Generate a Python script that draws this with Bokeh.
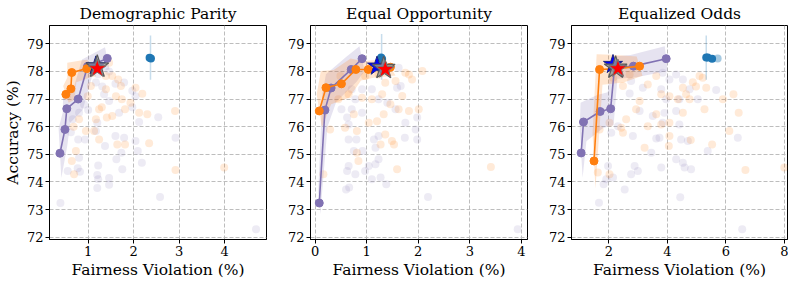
from bokeh.plotting import figure
from bokeh.layouts import row
from bokeh.models import FixedTicker, Range1d
from bokeh.embed import file_html
from bokeh.resources import INLINE

PURPLE = "#8172b3"
ORANGE = "#ff7f0e"
BLUE = "#1f77b4"
FONT = "DejaVu Serif"

titles = ["Demographic Parity", "Equal Opportunity", "Equalized Odds"]
x_ranges = [(0.15, 4.92), (-0.09, 4.12), (0.72, 8.11)]
x_ticks = [[1, 2, 3, 4], [0, 1, 2, 3, 4], [2, 4, 6, 8]]
y_ticks = [72, 73, 74, 75, 76, 77, 78, 79]
y_range = (71.92, 79.66)

# ---------- Demographic Parity ----------
dp_purple_x = [0.38, 0.49, 0.53, 0.78, 0.985, 1.42]
dp_purple_y = [75.04, 75.90, 76.65, 77.00, 78.18, 78.47]
dp_purple_yerr = [0.9, 0.6, 0.5, 0.4, 0.25, 0.4]
dp_purple_xerr = [0.03, 0.05, 0.08, 0.1, 0.12, 0.05]
dp_orange_x = [0.51, 0.62, 0.64, 0.97, 1.08]
dp_orange_y = [77.17, 77.37, 77.96, 78.10, 78.12]
dp_orange_yerr = [0.3, 0.4, 0.35, 0.3, 0.3]
dp_orange_xerr = [0.06, 0.08, 0.1, 0.1, 0.1]
dp_blue_x = [2.35, 2.38]
dp_blue_y = [78.49, 78.47]
dp_blue_alpha = [1.0, 1.0]
dp_blue_err = [2.37, 77.7, 79.3]
dp_stars = [(1.17, 78.20), (1.20, 78.17), (1.20, 78.10)]
dp_bg_purple_x = [0.39, 0.55, 0.77, 0.82, 0.80, 0.78, 0.93, 1.0, 1.17, 1.2, 1.22, 1.2, 1.2, 1.22,
                  1.46, 1.46, 1.37, 1.6, 1.62, 1.79, 1.75, 1.73, 1.68, 2.04, 2.09, 2.18, 2.12, 2.54,
                  2.58, 2.92, 1.97, 1.46, 1.35, 1.31, 1.17, 1.6, 1.79, 1.97, 2.04, 1.22, 1.46, 4.69,
                  0.66, 0.62, 0.91, 0.8]
dp_bg_purple_y = [73.24, 74.4, 74.5, 74.37, 74.88, 75.54, 75.54, 76.6, 75.84, 76.14, 74.6, 74.25, 73.78, 74.1,
                  74.14, 73.9, 75.3, 75.66, 74.82, 75.6, 74.46, 75.06, 76.5, 75.48, 75.12, 74.7, 76.17, 76.34,
                  73.46, 75.6, 76.7, 76.93, 77.17, 77.45, 77.6, 77.55, 77.6, 77.3, 77.1, 77.9, 78.0, 72.29,
                  76.27, 75.8, 76.8, 76.5]
dp_bg_orange_x = [0.53, 0.64, 0.69, 0.73, 0.99, 1.17, 1.24, 1.13, 1.24, 1.3, 1.41, 1.39, 1.53, 1.66, 1.72,
                  1.61, 1.74, 1.81, 1.64, 1.81, 1.93, 2.04, 2.19, 2.12, 2.3, 2.34, 2.91, 2.92, 3.99, 1.06,
                  0.95, 1.53, 1.39, 1.46, 0.8, 0.68]
dp_bg_orange_y = [77.1, 74.76, 74.28, 75.12, 77.1, 76.27, 76.63, 75.84, 75.54, 76.7, 76.33, 77.35, 77.83, 77.71,
                  77.47, 77.1, 76.99, 76.63, 75.36, 75.36, 76.87, 77.41, 77.19, 76.5, 76.45, 75.4, 76.57, 74.43,
                  74.52, 77.47, 75.84, 76.39, 77.83, 78.31, 76.27, 76.0]

# ---------- Equal Opportunity ----------
eo_purple_x = [0.08, 0.19, 0.31, 0.70, 0.91]
eo_purple_y = [73.24, 76.60, 77.40, 78.07, 78.46]
eo_purple_yerr = [0.4, 0.6, 0.5, 0.45, 0.45]
eo_purple_xerr = [0.02, 0.05, 0.1, 0.1, 0.05]
eo_orange_x = [0.08, 0.21, 0.51, 0.79, 1.03, 1.46]
eo_orange_y = [76.57, 77.41, 77.55, 78.07, 78.07, 78.15]
eo_orange_yerr = [0.6, 0.6, 0.5, 0.4, 0.3, 0.3]
eo_orange_xerr = [0.05, 0.1, 0.15, 0.1, 0.1, 0.1]
eo_blue_x = [1.28, 1.30]
eo_blue_y = [78.50, 78.45]
eo_blue_alpha = [1.0, 1.0]
eo_blue_err = [1.29, 77.7, 79.35]
eo_stars = [(1.20, 78.19), (1.33, 78.12), (1.36, 78.07)]
eo_bg_purple_x = [3.93, 2.19, 1.38, 1.27, 1.1, 0.6, 0.66, 0.78, 0.62, 0.97, 1.04, 1.17, 1.23, 0.65, 0.75,
                  0.92, 1.17, 0.8, 0.65, 1.14, 1.23, 1.74, 1.98, 1.75, 0.62, 0.65, 0.91, 0.51, 0.71, 1.56,
                  1.23, 1.59, 1.66, 0.71, 0.91, 1.1, 0.78, 1.62, 1.95, 1.98, 1.4]
eo_bg_purple_y = [72.29, 73.46, 73.92, 74.16, 74.1, 73.73, 73.8, 74.28, 74.4, 74.4, 74.58, 74.64, 74.82, 74.58, 75.12,
                  75.12, 75.24, 75.54, 75.54, 75.54, 75.66, 75.6, 76.33, 76.14, 76.33, 76.08, 76.5, 76.63, 76.63, 76.63,
                  76.99, 77.41, 77.47, 77.35, 77.35, 77.35, 76.99, 78.13, 75.9, 75.54, 76.87]
eo_bg_orange_x = [3.41, 1.59, 0.84, 1.27, 1.49, 1.53, 1.36, 0.81, 0.58, 0.29, 0.16, 0.81, 0.75, 1.04, 1.2,
                  1.33, 1.62, 1.82, 2.01, 1.46, 1.69, 1.3, 1.1, 0.91, 0.65, 1.36, 1.56, 1.82, 1.88, 2.08,
                  1.75, 0.97, 1.23, 0.49, 0.45]
eo_bg_orange_y = [74.54, 74.46, 74.76, 75.36, 75.48, 75.36, 75.72, 75.84, 75.96, 75.9, 74.28, 75.06, 76.45, 76.14, 76.2,
                  76.45, 76.63, 76.57, 76.63, 76.81, 77.11, 77.17, 76.99, 77.05, 77.17, 77.59, 77.65, 77.89, 77.71, 78.01,
                  77.95, 77.83, 77.89, 77.83, 76.99]

# ---------- Equalized Odds ----------
eq_purple_x = [1.05, 1.13, 1.70, 2.06, 2.19, 2.84, 3.96]
eq_purple_y = [75.05, 76.17, 76.55, 76.65, 78.13, 78.19, 78.46]
eq_purple_yerr = [0.9, 0.7, 0.6, 0.6, 0.4, 0.4, 0.45]
eq_purple_xerr = [0.05, 0.1, 0.1, 0.1, 0.1, 0.1, 0.05]
eq_orange_x = [1.49, 1.68, 2.30, 3.05]
eq_orange_y = [74.76, 78.07, 78.10, 78.19]
eq_orange_yerr = [1.0, 0.55, 0.5, 0.35]
eq_orange_xerr = [0.05, 0.1, 0.2, 0.1]
eq_blue_x = [5.33, 5.38, 5.53, 5.72]
eq_blue_y = [78.50, 78.50, 78.46, 78.47]
eq_blue_alpha = [1.0, 1.0, 1.0, 0.4]
eq_blue_err = [5.33, 77.7, 79.3]
eq_stars = [(2.14, 78.25), (2.23, 78.13), (2.31, 78.10)]
eq_bg_purple_x = [1.66, 6.56, 4.44, 2.54, 1.82, 2.14, 1.91, 2.76, 2.99, 3.79, 2.88, 4.3, 4.59, 4.81, 4.53,
                  5.38, 3.45, 6.41, 3.62, 3.73, 4.47, 4.7, 2.08, 2.82, 2.31, 3.84, 4.41, 3.9, 4.3, 3.5,
                  3.05, 3.96, 4.41, 5.04, 5.67, 4.76, 3.79, 3.16, 2.71, 4.07, 4.3, 4.53, 3.84, 2.76, 1.97]
eq_bg_purple_y = [73.25, 72.29, 73.45, 73.73, 73.92, 74.16, 74.1, 74.28, 74.4, 74.52, 74.58, 74.82, 74.52, 74.46, 74.7,
                  75.12, 75.06, 75.6, 75.57, 75.6, 75.54, 75.48, 75.78, 75.66, 76.02, 76.14, 76.08, 76.5, 76.57, 76.39,
                  76.57, 76.99, 76.99, 76.99, 77.33, 77.35, 77.35, 77.41, 77.2, 77.71, 77.89, 77.71, 77.95, 77.65, 74.58]
eq_bg_orange_x = [8.0, 6.67, 5.53, 4.07, 4.05, 4.8, 6.12, 6.44, 6.26, 5.9, 5.33, 4.98, 4.87, 5.21, 4.53,
                  4.64, 4.36, 4.07, 3.79, 3.33, 3.62, 3.05, 2.93, 2.59, 2.42, 3.33, 3.79, 3.22, 4.07, 3.62,
                  5.27, 5.1, 4.53, 4.76, 2.71, 2.48, 2.14, 2.02, 1.62, 1.68, 2.02, 2.48]
eq_bg_orange_y = [74.52, 74.43, 75.36, 75.66, 75.3, 75.52, 75.84, 76.5, 77.17, 76.99, 77.41, 77.45, 77.61, 77.77, 77.41,
                  77.17, 76.99, 77.1, 77.17, 77.53, 77.83, 76.93, 76.63, 76.27, 75.96, 76.02, 76.08, 75.24, 76.14, 76.45,
                  76.63, 77.83, 76.5, 76.99, 77.89, 77.47, 77.77, 74.28, 74.34, 75.9, 76.14, 75.78]

panels = [
    dict(px=dp_purple_x, py=dp_purple_y, pye=dp_purple_yerr, pxe=dp_purple_xerr,
         ox=dp_orange_x, oy=dp_orange_y, oye=dp_orange_yerr, oxe=dp_orange_xerr,
         bx=dp_blue_x, by=dp_blue_y, ba=dp_blue_alpha, be=dp_blue_err, stars=dp_stars,
         bgpx=dp_bg_purple_x, bgpy=dp_bg_purple_y, bgox=dp_bg_orange_x, bgoy=dp_bg_orange_y),
    dict(px=eo_purple_x, py=eo_purple_y, pye=eo_purple_yerr, pxe=eo_purple_xerr,
         ox=eo_orange_x, oy=eo_orange_y, oye=eo_orange_yerr, oxe=eo_orange_xerr,
         bx=eo_blue_x, by=eo_blue_y, ba=eo_blue_alpha, be=eo_blue_err, stars=eo_stars,
         bgpx=eo_bg_purple_x, bgpy=eo_bg_purple_y, bgox=eo_bg_orange_x, bgoy=eo_bg_orange_y),
    dict(px=eq_purple_x, py=eq_purple_y, pye=eq_purple_yerr, pxe=eq_purple_xerr,
         ox=eq_orange_x, oy=eq_orange_y, oye=eq_orange_yerr, oxe=eq_orange_xerr,
         bx=eq_blue_x, by=eq_blue_y, ba=eq_blue_alpha, be=eq_blue_err, stars=eq_stars,
         bgpx=eq_bg_purple_x, bgpy=eq_bg_purple_y, bgox=eq_bg_orange_x, bgoy=eq_bg_orange_y),
]


def band(xs, ys, xe, ye):
    upper_x = [x - e for x, e in zip(xs, xe)]
    upper_y = [y + e for y, e in zip(ys, ye)]
    lower_x = [x + e for x, e in zip(xs, xe)][::-1]
    lower_y = [y - e for y, e in zip(ys, ye)][::-1]
    return upper_x + lower_x, upper_y + lower_y


figs = []
for i, d in enumerate(panels):
    first = i == 0
    p = figure(frame_width=217 if i < 2 else 216, frame_height=214,
               x_range=Range1d(*x_ranges[i]), y_range=Range1d(*y_range),
               output_backend="svg", toolbar_location=None, title=titles[i],
               min_border_left=42 if first else 34, min_border_right=10 if i < 2 else 1,
               min_border_top=0, min_border_bottom=0)
    p.title.text_font = FONT
    p.title.text_font_size = "15.5px"
    p.title.text_font_style = "normal"
    p.title.text_color = "black"
    p.title.align = "center"
    p.title.standoff = 5
    p.outline_line_color = "black"
    p.outline_line_width = 1
    p.background_fill_color = "white"
    p.border_fill_color = "white"

    for ax in (p.xaxis[0], p.yaxis[0]):
        ax.major_label_text_font = FONT
        ax.major_label_text_font_size = "13px"
        ax.major_label_text_color = "black"
        ax.axis_label_text_font = FONT
        ax.axis_label_text_font_size = "15.5px"
        ax.axis_label_text_font_style = "normal"
        ax.axis_label_text_color = "black"
        ax.minor_tick_line_color = None
        ax.major_tick_out = 4
        ax.major_tick_in = 0
        ax.major_tick_line_color = "black"
        ax.major_label_standoff = 2
        ax.axis_label_standoff = 2
        ax.axis_line_color = "black"
    p.xaxis.ticker = FixedTicker(ticks=x_ticks[i])
    p.yaxis.ticker = FixedTicker(ticks=y_ticks)
    p.xaxis.axis_label = "Fairness Violation (%)"
    if first:
        p.yaxis.axis_label = "Accuracy (%)"

    p.grid.grid_line_color = "#bdbdbd"
    p.grid.grid_line_dash = "4 2"
    p.grid.grid_line_width = 1

    # background scatter
    p.scatter(d["bgpx"], d["bgpy"], size=8, color=PURPLE, alpha=0.14, line_color=None)
    p.scatter(d["bgox"], d["bgoy"], size=8, color=ORANGE, alpha=0.16, line_color=None)

    # bands
    bx, by = band(d["px"], d["py"], d["pxe"], d["pye"])
    p.patch(bx, by, color=PURPLE, alpha=0.2, line_color=None)
    bx, by = band(d["ox"], d["oy"], d["oxe"], d["oye"])
    p.patch(bx, by, color=ORANGE, alpha=0.2, line_color=None)

    # lines
    p.line(d["px"], d["py"], color=PURPLE, line_width=1.6)
    p.scatter(d["px"], d["py"], size=8, color=PURPLE)
    p.line(d["ox"], d["oy"], color=ORANGE, line_width=1.6)
    p.scatter(d["ox"], d["oy"], size=8, color=ORANGE)

    # blue points with error bar
    ex, ylo, yhi = d["be"]
    p.segment([ex], [ylo], [ex], [yhi], color=BLUE, alpha=0.25, line_width=1.5)
    p.scatter(d["bx"], d["by"], size=8, color=BLUE, alpha=d["ba"], line_color=None)

    # stars
    (sbx, sby), (sgx, sgy), (srx, sry) = d["stars"]
    p.scatter([sbx], [sby], marker="star", size=20, fill_color="blue", line_color="#1a237e", line_width=1)
    p.scatter([sgx], [sgy], marker="star", size=24, fill_color="#999999", fill_alpha=0.8,
              line_color="#5a5a5a", line_width=1.2)
    p.scatter([srx], [sry], marker="star", size=19, fill_color="red", line_color="#777777", line_width=1)

    figs.append(p)

layout = row(*figs)
open("out.html", "w").write(file_html(layout, INLINE))
